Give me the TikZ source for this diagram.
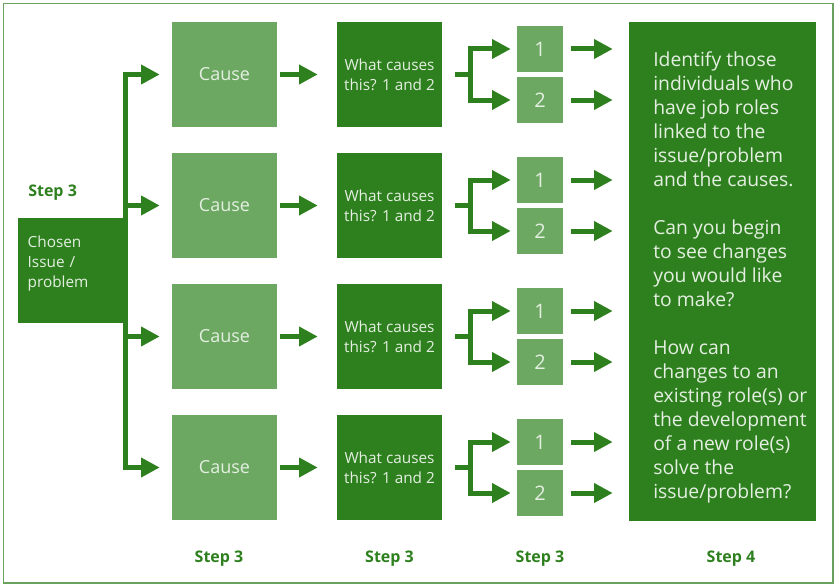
\documentclass[tikz,border=0pt]{standalone}
\usepackage{fontspec}
\setmainfont{Open Sans}
\usetikzlibrary{arrows.meta}
\definecolor{darkgr}{RGB}{46,128,31}
\definecolor{lightgr}{RGB}{108,168,98}
\definecolor{boxtxt}{RGB}{228,239,225}
\definecolor{framegr}{RGB}{104,162,92}

\begin{document}
\begin{tikzpicture}[x=0.75pt,y=-0.75pt,
  causebox/.style={fill=lightgr,text=boxtxt,inner sep=0pt,minimum width=78.75pt,minimum height=78.75pt,font=\fontsize{13.5}{16}\selectfont},
  whatbox/.style={fill=darkgr,text=boxtxt,inner sep=0pt,minimum width=78.75pt,minimum height=78.75pt,align=center,font=\fontsize{11.5}{15}\selectfont},
  numbox/.style={fill=lightgr,text=boxtxt,inner sep=0pt,minimum size=34.5pt,font=\fontsize{15}{18}\selectfont},
  flow/.style={draw=darkgr,line width=3.75pt,-{Triangle[length=14pt,width=14pt]}},
  bar/.style={draw=darkgr,line width=3.75pt},
  steplbl/.style={text=darkgr,inner sep=0pt,font=\bfseries\fontsize{12}{14}\selectfont}]

\useasboundingbox (0,0) rectangle (837,585);
\draw[framegr,line width=1.1pt] (3.5,3.5) rectangle (833,583);

\node[fill=darkgr,text=boxtxt,inner xsep=7.3pt,inner ysep=0pt,text width=65.7pt,minimum height=78.75pt,text depth=43pt,align=left,font=\fontsize{11.5}{15}\selectfont] (chosen) at (71.5,270.5) {Chosen\\Issue /\\problem};
\node[steplbl,anchor=base west] (lbl0) at (28,196) {Step 3};

\node[causebox] (c1) at (224.5,74.5) {Cause};
\node[causebox] (c2) at (224.5,205.5) {Cause};
\node[causebox] (c3) at (224.5,336.5) {Cause};
\node[causebox] (c4) at (224.5,467.5) {Cause};

\node[whatbox] (w1) at (389.5,74.5) {What causes\\this? 1 and 2};
\node[whatbox] (w2) at (389.5,205.5) {What causes\\this? 1 and 2};
\node[whatbox] (w3) at (389.5,336.5) {What causes\\this? 1 and 2};
\node[whatbox] (w4) at (389.5,467.5) {What causes\\this? 1 and 2};

\node[numbox] (n1a) at (540,49) {1};
\node[numbox] (n1b) at (540,100) {2};
\node[numbox] (n2a) at (540,180) {1};
\node[numbox] (n2b) at (540,231) {2};
\node[numbox] (n3a) at (540,311) {1};
\node[numbox] (n3b) at (540,362) {2};
\node[numbox] (n4a) at (540,442) {1};
\node[numbox] (n4b) at (540,493) {2};

\node[fill=darkgr,inner sep=0pt,minimum width=140.25pt,minimum height=374.25pt] (s4) at (722.5,271.5) {};
\node[anchor=north west,inner sep=0pt,align=left,text=boxtxt,font=\fontsize{14.5}{18}\selectfont] (s4text) at (653,51) {Identify those\\individuals who\\have job roles\\linked to the\\issue/problem\\and the causes.\\[18pt]Can you begin\\to see changes\\you would like\\to make?\\[18pt]How can\\changes to an\\existing role(s) or\\the development\\of a new role(s)\\solve the\\issue/problem?};

\draw[bar,line cap=rect] (chosen.east |- c1) -- (chosen.east |- c4);
\draw[flow,shorten >=9pt] (chosen.east |- c1) -- (c1);
\draw[flow,shorten >=9pt] (chosen.east |- c2) -- (c2);
\draw[flow,shorten >=9pt] (chosen.east |- c3) -- (c3);
\draw[flow,shorten >=9pt] (chosen.east |- c4) -- (c4);

\draw[flow,shorten <=2.25pt,shorten >=14.25pt] (c1) -- (w1);
\draw[flow,shorten <=2.25pt,shorten >=14.25pt] (c2) -- (w2);
\draw[flow,shorten <=2.25pt,shorten >=14.25pt] (c3) -- (w3);
\draw[flow,shorten <=2.25pt,shorten >=14.25pt] (c4) -- (w4);

\coordinate (f1) at ([xshift=21pt]w1.east);
\coordinate (f2) at ([xshift=21pt]w2.east);
\coordinate (f3) at ([xshift=21pt]w3.east);
\coordinate (f4) at ([xshift=21pt]w4.east);

\draw[bar] ([xshift=9.75pt]w1.east) -- (f1);
\draw[flow,shorten >=4.5pt] (f1) |- (n1a);
\draw[flow,shorten >=4.5pt] (f1) |- (n1b);
\draw[bar] ([xshift=9.75pt]w2.east) -- (f2);
\draw[flow,shorten >=4.5pt] (f2) |- (n2a);
\draw[flow,shorten >=4.5pt] (f2) |- (n2b);
\draw[bar] ([xshift=9.75pt]w3.east) -- (f3);
\draw[flow,shorten >=4.5pt] (f3) |- (n3a);
\draw[flow,shorten >=4.5pt] (f3) |- (n3b);
\draw[bar] ([xshift=9.75pt]w4.east) -- (f4);
\draw[flow,shorten >=4.5pt] (f4) |- (n4a);
\draw[flow,shorten >=4.5pt] (f4) |- (n4b);

\draw[flow,shorten <=6pt,shorten >=12pt] (n1a) -- (n1a -| s4.west);
\draw[flow,shorten <=6pt,shorten >=12pt] (n1b) -- (n1b -| s4.west);
\draw[flow,shorten <=6pt,shorten >=12pt] (n2a) -- (n2a -| s4.west);
\draw[flow,shorten <=6pt,shorten >=12pt] (n2b) -- (n2b -| s4.west);
\draw[flow,shorten <=6pt,shorten >=12pt] (n3a) -- (n3a -| s4.west);
\draw[flow,shorten <=6pt,shorten >=12pt] (n3b) -- (n3b -| s4.west);
\draw[flow,shorten <=6pt,shorten >=12pt] (n4a) -- (n4a -| s4.west);
\draw[flow,shorten <=6pt,shorten >=12pt] (n4b) -- (n4b -| s4.west);

\node[steplbl,anchor=base] (lbl1) at (219,562) {Step 3};
\node[steplbl,anchor=base] (lbl2) at (389.5,562) {Step 3};
\node[steplbl,anchor=base] (lbl3) at (540,562) {Step 3};
\node[steplbl,anchor=base] (lbl4) at (731,562) {Step 4};
\end{tikzpicture}
\end{document}
